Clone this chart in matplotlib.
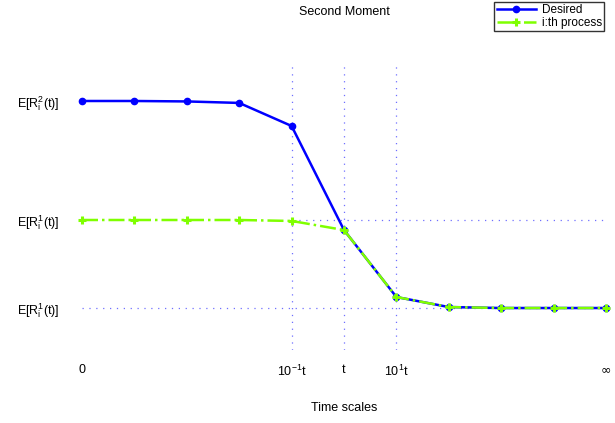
import numpy as np
import matplotlib.pyplot as plt

plt.rcParams['font.family'] = ['Liberation Sans', 'DejaVu Sans']

# data (y in arbitrary units: 1 = E[R^1] low, 2 = E[R^1] mid)
steps = np.arange(11)
desired = [3.352, 3.352, 3.347, 3.33, 3.068, 1.886, 1.125, 1.011, 1.0, 1.0, 1.0]
ith = [2.0, 2.0, 2.0, 2.0, 1.989, 1.886, 1.125, 1.011, 1.0, 1.0, 1.0]

xtick_pos = [0, 4, 5, 6, 10]
xtick_lab = ['0', r'10$^{\mathregular{-1}}$t', 't', r'10$^{\mathregular{1}}$t', r'$\infty$']
ytick_pos = [1.0, 2.0, 3.352]
ytick_lab = [r'E[R$_\mathregular{i}^\mathregular{1}$(t)]',
             r'E[R$_\mathregular{i}^\mathregular{1}$(t)]',
             r'E[R$_\mathregular{i}^\mathregular{2}$(t)]']

fig = plt.figure(figsize=(6.15, 4.23), dpi=100)
ax = fig.add_axes([82/615, 1 - 350/423, (606 - 82)/615, (350 - 62)/423])
ax.set_xlim(0, 10)
ax.set_ylim(0.523, 3.795)

grid_c = '#6f6fff'
gkw = dict(color=grid_c, lw=0.9, dashes=(1, 4.5), zorder=1)
for xv in [4, 5, 6]:
    ax.axvline(xv, **gkw)
ax.plot([4, 10], [2.0, 2.0], **gkw)
ax.plot([0, 10], [1.0, 1.0], **gkw)

l1, = ax.plot(steps, desired, color='#0000ff', lw=1.8, marker='o', ms=4.5,
              clip_on=False, zorder=3, label='Desired')
l2, = ax.plot(steps, ith, color='#7fff00', lw=1.8, ls='-.', marker='+', ms=6,
              mew=2.2, clip_on=False, zorder=4, label='i:th process')

for s in ax.spines.values():
    s.set_visible(False)
ax.tick_params(length=0)
ax.set_xticks(xtick_pos)
ax.set_xticklabels(xtick_lab, fontsize=9)
ax.set_yticks(ytick_pos)
ax.set_yticklabels(ytick_lab, fontsize=9)
ax.tick_params(axis='x', pad=10)
ax.tick_params(axis='y', pad=16)

fig.text(344/615, 1 - 12/423, 'Second Moment', ha='center', va='center', fontsize=9)
fig.text(344/615, 1 - 408/423, 'Time scales', ha='center', va='center', fontsize=9)

leg = fig.legend(handles=[l1, l2], loc='upper right', bbox_to_anchor=(604/615, 1 - 2/423),
                 fontsize=8.5, frameon=True, fancybox=False, edgecolor='black',
                 handlelength=3.3, borderpad=0.2, labelspacing=0.05, handletextpad=0.5,
                 borderaxespad=0)
leg.get_frame().set_linewidth(1.0)

fig.savefig('out.png', dpi=100)
